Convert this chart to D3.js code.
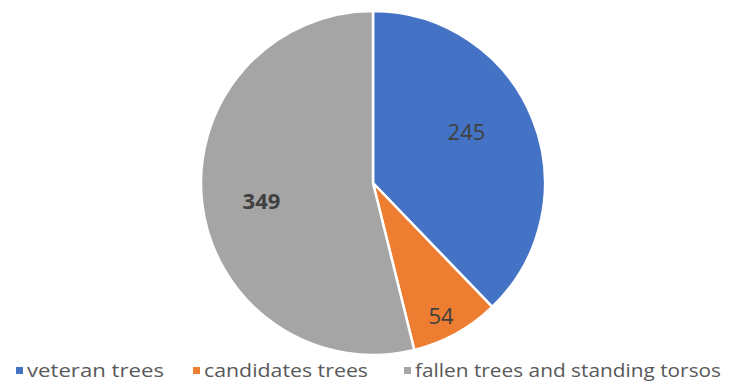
<!DOCTYPE html>
<html><head><meta charset="utf-8">
<script src="https://cdn.jsdelivr.net/npm/d3@7"></script>
<style>body{margin:0;background:#fff}svg{display:block}</style>
</head><body>
<svg id="c" width="729" height="383"></svg>
<script>
const categories = ["veteran trees", "candidates trees", "fallen trees and standing torsos"];
const values = [245, 54, 349];
const colors = ["#4472C4", "#ED7D31", "#A5A5A5"];

const svg = d3.select("#c");
const cx = 373, cy = 183, r = 172;
const g = svg.append("g").attr("transform", `translate(${cx},${cy})`);
const pie = d3.pie().sort(null).value(d => d)(values);
const arc = d3.arc().innerRadius(0).outerRadius(r);
g.selectAll("path").data(pie).join("path")
  .attr("d", arc).attr("fill", (d, i) => colors[i])
  .attr("stroke", "#fff").attr("stroke-width", 2.5).attr("stroke-linejoin", "round");

// best-fit label placement (radius fraction, angular shift in degrees)
const labelR = [0.622, 0.863, 0.656];
const labelShift = [-7.2, 1.6, -1.8];
g.selectAll("text.lbl").data(pie).join("text").attr("class", "lbl")
  .attr("transform", (d, i) => {
    const a = (d.startAngle + d.endAngle) / 2 + labelShift[i] * Math.PI / 180;
    const rr = r * labelR[i];
    return `translate(${rr * Math.sin(a)},${-rr * Math.cos(a)})`;
  })
  .attr("text-anchor", "middle").attr("dominant-baseline", "central")
  .attr("font-family", "Open Sans, sans-serif").attr("font-size", 22)
  .attr("font-weight", (d, i) => i === 2 ? "bold" : "normal")
  .attr("fill", "#404040").text(d => d.data);

const legendX = [16, 193, 404];
const legendW = [137, 164, 306];
const lg = svg.append("g");
categories.forEach((c, i) => {
  lg.append("rect").attr("x", legendX[i]).attr("y", 367).attr("width", 7).attr("height", 7).attr("fill", colors[i]);
  lg.append("text").attr("x", legendX[i] + 11).attr("y", 377)
    .attr("textLength", legendW[i]).attr("lengthAdjust", "spacingAndGlyphs")
    .attr("font-family", "Open Sans, sans-serif").attr("font-size", 18).attr("fill", "#595959").text(c);
});
</script>
</body></html>
